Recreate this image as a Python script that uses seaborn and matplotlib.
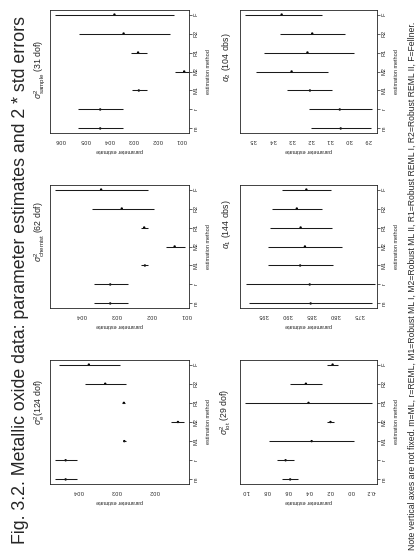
import numpy as np
import pandas as pd
import matplotlib
matplotlib.use('Agg')
import matplotlib.pyplot as plt
import seaborn as sns

# estimation methods, bottom to top of each panel
methods = ['m', 'r', 'M1', 'M2', 'R1', 'R2', 'F']

# sigma^2 sample (31 dof)
sample_est = [0.0437, 0.0437, 0.0277, 0.0089, 0.0280, 0.0340, 0.0378]
sample_lo = [0.0343, 0.0343, 0.0242, 0.0050, 0.0244, 0.0146, 0.0130]
sample_hi = [0.0528, 0.0528, 0.0307, 0.0127, 0.0310, 0.0525, 0.0623]

# sigma^2 chemist (62 dof)
chemist_est = [0.0317, 0.0317, 0.0218, 0.0133, 0.0220, 0.0284, 0.0343]
chemist_lo = [0.0265, 0.0265, 0.0208, 0.0102, 0.0209, 0.0191, 0.0208]
chemist_hi = [0.0364, 0.0364, 0.0228, 0.0158, 0.0230, 0.0369, 0.0475]

# sigma^2 e (124 dof)
err_est = [0.0433, 0.0433, 0.0279, 0.0138, 0.0280, 0.0329, 0.0372]
err_lo = [0.0402, 0.0402, 0.0274, 0.0121, 0.0276, 0.0274, 0.0290]
err_hi = [0.0460, 0.0460, 0.0283, 0.0155, 0.0284, 0.0383, 0.0450]

# alpha 2 (104 obs)
a2_est = [3.043, 3.048, 3.204, 3.300, 3.217, 3.192, 3.352]
a2_lo = [2.883, 2.879, 3.088, 3.109, 2.973, 3.018, 3.140]
a2_hi = [3.201, 3.208, 3.324, 3.486, 3.446, 3.359, 3.5435]

# alpha 1 (144 obs)
a1_est = [3.851, 3.853, 3.873, 3.863, 3.872, 3.880, 3.860]
a1_lo = [3.722, 3.716, 3.805, 3.785, 3.807, 3.828, 3.808]
a1_hi = [3.980, 3.987, 3.941, 3.941, 3.937, 3.932, 3.911]

# sigma^2 lot (29 dof)
lot_est = [0.575, 0.619, 0.370, 0.190, 0.400, 0.425, 0.170]
lot_lo = [0.498, 0.537, -0.035, 0.160, -0.206, 0.270, 0.120]
lot_hi = [0.651, 0.702, 0.775, 0.225, 1.006, 0.575, 0.220]

W, H = 419, 556

def box(x0, y0, x1, y1):
    return [x0/W, 1-y1/H, (x1-x0)/W, (y1-y0)/H]

def drawPanel(ax, est, lo, hi, lims, ticks, fmt, title, tpos, toff):
    df = pd.DataFrame({'method': methods, 'pos': np.arange(len(methods)),
                       'est': est, 'lo': lo, 'hi': hi})
    ax.hlines(df['pos'], df['lo'], df['hi'], color='#1a1a1a', lw=0.75)
    sns.scatterplot(data=df, x='est', y='pos', ax=ax, color='k', s=3,
                    edgecolor='none', legend=False)
    ax.set_xlim(lims)  # high values on the left (page is turned)
    ax.set_ylim(-0.24, 6.24)
    ax.set_xticks(ticks)
    ax.set_xticklabels([fmt % t for t in ticks], rotation=180, fontsize=4)
    ax.yaxis.tick_right()
    ax.set_yticks(df['pos'])
    ax.set_yticklabels(methods, rotation=90, fontsize=4, va='center')
    ax.set_xlabel('parameter estimate', rotation=180, fontsize=4, labelpad=4)
    ax.yaxis.set_label_position('right')
    ax.set_ylabel('estimation method', rotation=90, fontsize=4, labelpad=5)
    ax.tick_params(direction='out', length=2, width=0.5, pad=1.5)
    for s in ax.spines.values():
        s.set_linewidth(0.6)
        s.set_color('#222222')
    ax.text(toff, tpos, title, rotation=90, transform=ax.transAxes,
            ha='right', va='center', fontsize=6.3)

if __name__ == "__main__":
    sns.set_style('white')
    plt.rcParams['font.family'] = ['Liberation Sans', 'DejaVu Sans']
    plt.rcParams['mathtext.fontset'] = 'custom'
    plt.rcParams['mathtext.rm'] = 'Liberation Sans'
    plt.rcParams['mathtext.it'] = 'Liberation Sans:italic'

    fig = plt.figure(figsize=(W/100, H/100), dpi=100)

    lcol, rcol = (50, 189), (240, 377)
    rows = [(10, 133), (185, 308), (360, 484)]
    loff, roff = -0.025, -0.05

    ax = fig.add_axes(box(lcol[0], rows[0][0], lcol[1], rows[0][1]))
    drawPanel(ax, sample_est, sample_lo, sample_hi, (0.0645, 0.0069),
              [0.06, 0.05, 0.04, 0.03, 0.02, 0.01], '%.2f',
              r'$\sigma^2_{\mathrm{sample}}$ (31 dof)', 0.52, loff)

    ax = fig.add_axes(box(lcol[0], rows[1][0], lcol[1], rows[1][1]))
    drawPanel(ax, chemist_est, chemist_lo, chemist_hi, (0.0489, 0.0092),
              [0.04, 0.03, 0.02, 0.01], '%.2f',
              r'$\sigma^2_{\mathrm{chemist}}$ (62 dof)', 0.62, loff)

    ax = fig.add_axes(box(lcol[0], rows[2][0], lcol[1], rows[2][1]))
    drawPanel(ax, err_est, err_lo, err_hi, (0.0474, 0.0109),
              [0.04, 0.03, 0.02], '%.2f',
              r'$\sigma^2_{\mathrm{e}}$(124 dof)', 0.66, loff)

    ax = fig.add_axes(box(rcol[0], rows[0][0], rcol[1], rows[0][1]))
    drawPanel(ax, a2_est, a2_lo, a2_hi, (3.570, 2.853),
              [3.5, 3.4, 3.3, 3.2, 3.1, 3.0, 2.9], '%.1f',
              r'$\alpha_2$ (104 obs)', 0.62, roff)

    ax = fig.add_axes(box(rcol[0], rows[1][0], rcol[1], rows[1][1]))
    drawPanel(ax, a1_est, a1_lo, a1_hi, (3.999, 3.712),
              [3.95, 3.90, 3.85, 3.80, 3.75], '%.2f',
              r'$\alpha_1$ (144 obs)', 0.68, roff)

    ax = fig.add_axes(box(rcol[0], rows[2][0], rcol[1], rows[2][1]))
    drawPanel(ax, lot_est, lot_lo, lot_hi, (1.054, -0.254),
              [1.0, 0.8, 0.6, 0.4, 0.2, 0.0, -0.2], '%.1f',
              r'$\sigma^2_{\mathrm{lot}}$ (29 dof)', 0.58, roff)

    fig.text(21/W, 0.497, 'Fig. 3.2. Metallic oxide data: parameter estimates and 2 * std errors',
             rotation=90, ha='center', va='center', fontsize=12.8)
    fig.text(412/W, 0.485,
             'Note vertical axes are not fixed. m=ML, r=REML, M1=Robust ML I, M2=Robust ML II, '
             'R1=Robust REML I, R2=Robust REML II, F=Fellner.',
             rotation=90, ha='center', va='center', fontsize=6.2)

    plt.savefig('out.png', dpi=100)
    plt.close()
